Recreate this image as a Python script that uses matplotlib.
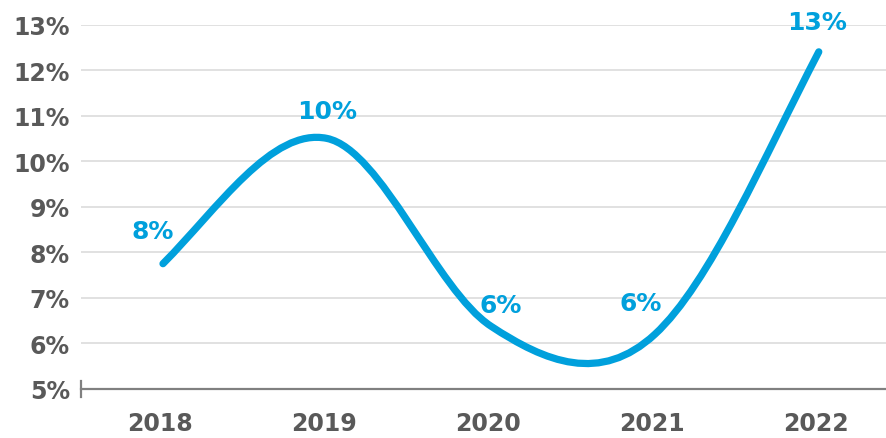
import matplotlib
matplotlib.use("Agg")
import matplotlib.pyplot as plt
import matplotlib.transforms as mtransforms
from matplotlib.path import Path
from matplotlib.patches import PathPatch

# ---------- DATA ----------
years = ["2018", "2019", "2020", "2021", "2022"]
growth = [7.75, 10.5, 6.38, 6.2, 12.4]          # % per year
point_labels = ["8%", "10%", "6%", "6%", "13%"]
yticks = [5, 6, 7, 8, 9, 10, 11, 12, 13]

# ---------- STYLE ----------
BLUE = "#00A0DC"
GREY_TXT = "#595959"
GRID = "#D9D9D9"
AXIS = "#808080"
label_offsets = [(-10, 33), (0, 27), (10, 21), (-14, 31), (-2, 30)]  # pixels


def smooth_path(xs, ys, tension=1.1):
    # smoothed line like excel: cubic bezier through every point
    n = len(xs)
    m = [0.0] * n
    for i in range(1, n - 1):
        m[i] = tension * (ys[i + 1] - ys[i - 1]) / 2
    m[0] = 1.25 * (ys[1] - ys[0]) - 0.25 * m[1]
    m[-1] = 1.25 * (ys[-1] - ys[-2]) - 0.25 * m[-2]
    verts = [(xs[0], ys[0])]
    codes = [Path.MOVETO]
    for i in range(n - 1):
        dx = (xs[i + 1] - xs[i]) / 3
        verts += [(xs[i] + dx, ys[i] + m[i] / 3),
                  (xs[i + 1] - dx, ys[i + 1] - m[i + 1] / 3),
                  (xs[i + 1], ys[i + 1])]
        codes += [Path.CURVE4] * 3
    return Path(verts, codes)


fig = plt.figure(figsize=(8.86, 4.39), dpi=100)
ax = fig.add_axes([81 / 886, 49 / 439, 1 - 81 / 886, (390 - 25.5) / 439])

x = list(range(len(years)))
patch = PathPatch(smooth_path(x, growth), facecolor="none", edgecolor=BLUE,
                  lw=5.2, capstyle="round", joinstyle="round", zorder=3)
ax.add_patch(patch)

for xi, yi, lab, off in zip(x, growth, point_labels, label_offsets):
    ax.annotate(lab, (xi, yi), xytext=off, textcoords="offset pixels",
                ha="center", va="center", color=BLUE, fontsize=18,
                fontweight="semibold", annotation_clip=False, zorder=4)

ax.set_xlim(-0.5, 4.41)
ax.set_ylim(5, 13)
ax.set_yticks(yticks)
ax.set_yticklabels([f"{t}%" for t in yticks])
ax.set_xticks(x)
ax.set_xticklabels(years)
ax.tick_params(axis="y", length=0, pad=8, labelsize=17, labelcolor=GREY_TXT)
ax.tick_params(axis="x", length=0, pad=16, labelsize=17, labelcolor=GREY_TXT)
shift = mtransforms.ScaledTranslation(-3 / 100, 0, fig.dpi_scale_trans)
for lab in ax.get_xticklabels():
    lab.set_transform(lab.get_transform() + shift)
for lab in ax.get_xticklabels() + ax.get_yticklabels():
    lab.set_fontweight("bold")

ax.grid(axis="y", color=GRID, lw=1.1)
ax.set_axisbelow(True)
for side in ["top", "right", "left"]:
    ax.spines[side].set_visible(False)
ax.spines["bottom"].set_color(AXIS)
ax.spines["bottom"].set_linewidth(1.6)
ax.axvline(-0.5, ymin=-0.022, ymax=0.022, color=AXIS, lw=1.6, clip_on=False)

fig.savefig("out.png", dpi=100)
